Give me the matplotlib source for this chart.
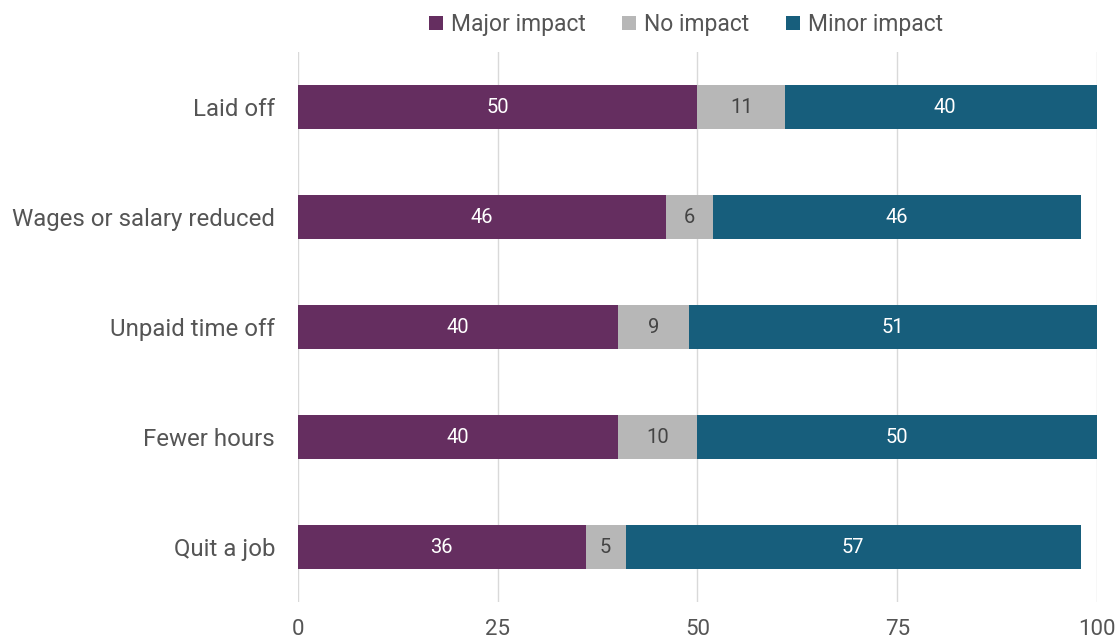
import matplotlib.pyplot as plt
import numpy as np

plt.rcParams['font.family'] = ['Roboto', 'DejaVu Sans']

# data
categories = ["Laid off", "Wages or salary reduced", "Unpaid time off",
              "Fewer hours", "Quit a job"]
series_names = ["Major impact", "No impact", "Minor impact"]
major = [50, 46, 40, 40, 36]
none_ = [11, 6, 9, 10, 5]
minor = [40, 46, 51, 50, 57]
x_ticks = [0, 25, 50, 75, 100]

colors = ["#652e60", "#b7b7b7", "#175e7c"]
text_colors = ["white", "#444444", "white"]

fig = plt.figure(figsize=(11.19, 6.4), dpi=100)
ax = fig.add_axes([0.2663, 0.0594, 0.714, 0.859])

y = np.arange(len(categories))
left = np.zeros(len(categories))
handles = []
for vals, name, c, tc in zip([major, none_, minor], series_names, colors, text_colors):
    bars = ax.barh(y, vals, left=left, height=0.4, color=c, label=name, zorder=2)
    for yi, l, v in zip(y, left, vals):
        ax.text(l + v / 2, yi, str(v), ha="center", va="center",
                color=tc, fontsize=14.5, zorder=3)
    left = left + np.array(vals)
    handles.append(bars)

ax.set_xlim(0, 100)
ax.set_ylim(len(categories) - 0.5, -0.5)
ax.set_yticks(y)
ax.set_yticklabels(categories, fontsize=17.3, color="#555555")
ax.set_xticks(x_ticks)
ax.set_xticklabels([str(t) for t in x_ticks], fontsize=16, color="#555555",
                   family=["Liberation Sans Narrow", "Roboto"])
ax.tick_params(axis="both", length=0)
ax.tick_params(axis="y", pad=16.5)
ax.tick_params(axis="x", pad=12)
ax.grid(axis="x", color="#d9d9d9", linewidth=1, zorder=0)
for s in ax.spines.values():
    s.set_visible(False)

fig.legend(handles=handles, labels=series_names, loc="upper center",
           bbox_to_anchor=(0.613, 1.012), ncol=3, frameon=False,
           fontsize=16.5, handlelength=0.6, handleheight=0.6, handletextpad=0.35,
           columnspacing=1.6, labelcolor="#555555")

fig.savefig("out.png", dpi=100)
